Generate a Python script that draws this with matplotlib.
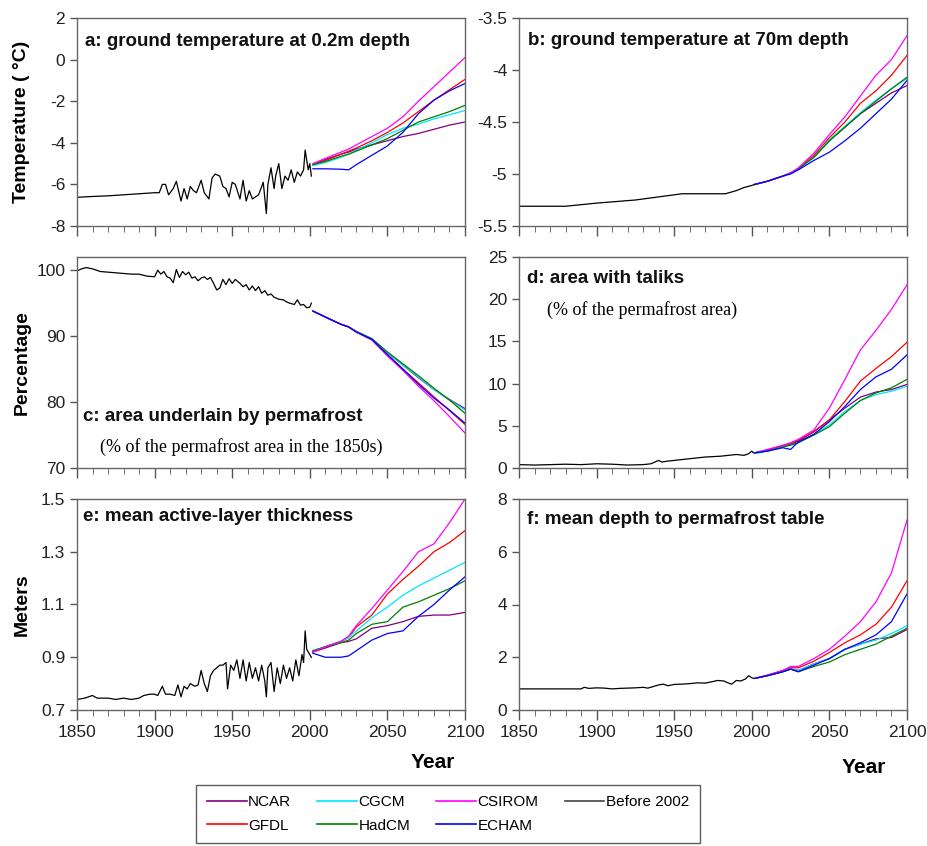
import matplotlib
matplotlib.use("Agg")
import matplotlib.pyplot as plt
from matplotlib.ticker import MultipleLocator, FormatStrFormatter

plt.rcParams['font.family'] = ['Liberation Sans', 'DejaVu Sans']
plt.rcParams['axes.unicode_minus'] = False

models = ['NCAR', 'GFDL', 'CGCM', 'HadCM', 'CSIROM', 'ECHAM']
colors = {'NCAR': '#800080', 'GFDL': '#ff0000', 'CGCM': '#00e5ff',
          'HadCM': '#008000', 'CSIROM': '#ff00ff', 'ECHAM': '#0000ff'}

proj_years = [2002, 2010, 2020, 2025, 2030, 2040, 2050, 2060, 2070, 2080, 2090, 2100]

# a: ground temperature at 0.2 m
hist_a_years = [1850, 1860, 1870, 1880, 1890, 1900, 1903, 1905, 1907, 1909, 1912, 1914, 1917, 1919,
                1921, 1923, 1925, 1927, 1930, 1932, 1935, 1937, 1939, 1942, 1944, 1946, 1948, 1950,
                1952, 1955, 1957, 1959, 1961, 1963, 1965, 1967, 1970, 1972, 1973, 1975, 1977, 1978,
                1980, 1982, 1984, 1986, 1988, 1990, 1992, 1994, 1996, 1997, 1999, 2000, 2001]
hist_a = [-6.62, -6.58, -6.55, -6.5, -6.45, -6.4, -6.4, -6.0, -6.0, -6.5, -6.2, -5.85, -6.8, -6.2,
          -6.7, -6.1, -6.3, -6.4, -5.8, -6.4, -6.7, -5.7, -5.5, -5.6, -6.1, -6.2, -6.6, -5.9,
          -6.0, -6.7, -5.8, -6.8, -6.3, -6.7, -6.6, -6.5, -5.9, -7.4, -6.0, -5.2, -6.2, -5.6,
          -5.0, -6.2, -5.6, -5.8, -5.3, -5.9, -5.4, -5.6, -5.3, -4.35, -5.3, -5.0, -5.6]
proj_a = {
    'NCAR':   [-5.05, -4.8, -4.55, -4.45, -4.3, -4.1, -3.9, -3.7, -3.55, -3.35, -3.15, -3.0],
    'GFDL':   [-5.05, -4.85, -4.55, -4.4, -4.25, -3.9, -3.5, -3.05, -2.5, -1.95, -1.45, -0.95],
    'CGCM':   [-5.1, -4.95, -4.7, -4.55, -4.35, -4.0, -3.6, -3.3, -3.1, -2.85, -2.65, -2.45],
    'HadCM':  [-5.05, -4.9, -4.65, -4.55, -4.4, -4.1, -3.8, -3.4, -3.0, -2.75, -2.5, -2.2],
    'CSIROM': [-5.0, -4.75, -4.45, -4.3, -4.1, -3.7, -3.3, -2.75, -2.0, -1.3, -0.6, 0.1],
    'ECHAM':  [-5.25, -5.25, -5.27, -5.3, -5.05, -4.6, -4.15, -3.5, -2.6, -1.95, -1.5, -1.15],
}

# b: ground temperature at 70 m
hist_b_years = [1850, 1880, 1900, 1925, 1940, 1955, 1983, 1990, 1995, 2000, 2002]
hist_b = [-5.31, -5.31, -5.28, -5.25, -5.22, -5.19, -5.19, -5.16, -5.13, -5.11, -5.1]
proj_b = {
    'NCAR':   [-5.1, -5.07, -5.02, -4.99, -4.95, -4.84, -4.68, -4.55, -4.42, -4.32, -4.22, -4.15],
    'GFDL':   [-5.1, -5.07, -5.02, -4.99, -4.95, -4.82, -4.65, -4.5, -4.32, -4.2, -4.05, -3.86],
    'CGCM':   [-5.1, -5.07, -5.02, -4.99, -4.95, -4.84, -4.67, -4.54, -4.41, -4.29, -4.18, -4.08],
    'HadCM':  [-5.1, -5.07, -5.02, -4.99, -4.95, -4.84, -4.68, -4.55, -4.42, -4.3, -4.18, -4.07],
    'CSIROM': [-5.1, -5.07, -5.02, -4.99, -4.94, -4.8, -4.62, -4.45, -4.25, -4.05, -3.9, -3.67],
    'ECHAM':  [-5.1, -5.07, -5.02, -5.0, -4.96, -4.87, -4.79, -4.68, -4.56, -4.42, -4.28, -4.1],
}

# c: area underlain by permafrost
hist_c_years = [1850, 1853, 1856, 1860, 1865, 1870, 1875, 1880, 1885, 1890, 1895, 1900, 1902, 1904,
                1906, 1908, 1910, 1912, 1914, 1916, 1918, 1920, 1922, 1924, 1926, 1928, 1930, 1932,
                1934, 1936, 1938, 1940, 1942, 1944, 1946, 1948, 1950, 1952, 1955, 1957, 1959, 1961,
                1963, 1965, 1967, 1969, 1971, 1973, 1975, 1977, 1980, 1983, 1985, 1987, 1990, 1992,
                1994, 1996, 1998, 2000, 2001]
hist_c = [99.9, 100.2, 100.4, 100.2, 99.8, 99.7, 99.6, 99.5, 99.4, 99.4, 99.1, 99.0, 100.0, 99.4,
          99.8, 99.0, 98.8, 98.1, 100.1, 98.9, 99.8, 99.3, 99.7, 98.8, 99.0, 98.4, 98.8, 99.0,
          98.6, 98.9, 98.0, 97.0, 97.3, 98.6, 97.8, 98.7, 98.0, 98.6, 98.0, 97.5, 97.8, 97.0,
          97.6, 96.9, 97.5, 96.5, 96.9, 96.2, 96.4, 95.9, 95.6, 95.5, 95.2, 95.0, 94.8, 95.5,
          94.7, 94.8, 94.3, 94.4, 95.0]
proj_c = {
    'NCAR':   [93.8, 92.9, 91.8, 91.4, 90.7, 89.6, 87.5, 85.6, 83.7, 81.9, 80.4, 79.0],
    'GFDL':   [93.8, 92.9, 91.8, 91.4, 90.7, 89.5, 87.2, 85.0, 82.9, 80.8, 78.7, 76.6],
    'CGCM':   [93.8, 92.9, 91.8, 91.4, 90.7, 89.6, 87.5, 85.6, 83.8, 81.9, 80.3, 78.8],
    'HadCM':  [93.8, 92.9, 91.8, 91.4, 90.7, 89.6, 87.6, 85.8, 84.0, 82.1, 80.3, 78.3],
    'CSIROM': [93.8, 92.9, 91.8, 91.4, 90.6, 89.4, 87.0, 84.8, 82.4, 80.2, 77.8, 75.3],
    'ECHAM':  [93.8, 92.9, 91.8, 91.4, 90.6, 89.5, 87.2, 85.0, 82.7, 80.6, 78.8, 76.8],
}

# d: area with taliks
hist_d_years = [1850, 1860, 1870, 1880, 1890, 1900, 1910, 1920, 1930, 1935, 1940, 1942, 1945, 1950,
                1955, 1960, 1965, 1970, 1975, 1980, 1985, 1990, 1995, 1998, 2000, 2001]
hist_d = [0.4, 0.35, 0.4, 0.45, 0.4, 0.5, 0.45, 0.35, 0.4, 0.5, 0.9, 0.7, 0.8, 0.9,
          1.0, 1.1, 1.2, 1.3, 1.35, 1.4, 1.5, 1.6, 1.5, 1.7, 2.0, 1.8]
proj_d = {
    'NCAR':   [1.8, 2.1, 2.6, 2.8, 3.2, 4.3, 5.7, 7.1, 8.4, 9.0, 9.3, 9.9],
    'GFDL':   [1.8, 2.1, 2.6, 2.9, 3.3, 4.3, 5.7, 7.9, 10.3, 11.8, 13.2, 14.9],
    'CGCM':   [1.7, 2.0, 2.5, 2.7, 3.0, 4.0, 5.1, 6.7, 8.0, 8.7, 9.1, 9.7],
    'HadCM':  [1.8, 2.0, 2.5, 2.7, 3.0, 3.9, 4.9, 6.5, 8.0, 8.9, 9.5, 10.5],
    'CSIROM': [1.8, 2.2, 2.7, 3.0, 3.4, 4.5, 7.1, 10.5, 14.0, 16.3, 18.8, 21.7],
    'ECHAM':  [1.8, 2.0, 2.4, 2.2, 3.1, 4.0, 5.5, 7.3, 9.3, 10.8, 11.7, 13.4],
}

# e: mean active-layer thickness
hist_e_years = [1850, 1855, 1860, 1863, 1870, 1875, 1880, 1885, 1890, 1893, 1897, 1900, 1902, 1905,
                1907, 1910, 1913, 1915, 1917, 1919, 1921, 1923, 1926, 1928, 1930, 1932, 1934, 1936,
                1938, 1940, 1942, 1944, 1946, 1947, 1949, 1951, 1953, 1955, 1957, 1959, 1961, 1963,
                1965, 1967, 1969, 1971, 1972, 1973, 1975, 1977, 1979, 1981, 1983, 1985, 1987, 1989,
                1991, 1993, 1995, 1996, 1997, 1998, 1999, 2000, 2001]
hist_e = [0.74, 0.745, 0.755, 0.745, 0.745, 0.74, 0.745, 0.74, 0.745, 0.755, 0.76, 0.76, 0.755, 0.79,
          0.76, 0.76, 0.755, 0.795, 0.75, 0.79, 0.78, 0.8, 0.79, 0.795, 0.85, 0.8, 0.77, 0.83,
          0.85, 0.86, 0.87, 0.87, 0.88, 0.78, 0.87, 0.85, 0.89, 0.82, 0.89, 0.81, 0.88, 0.82,
          0.86, 0.81, 0.87, 0.81, 0.75, 0.86, 0.88, 0.77, 0.86, 0.8, 0.87, 0.82, 0.86, 0.81,
          0.89, 0.83, 0.91, 0.88, 1.0, 0.93, 0.92, 0.91, 0.9]
proj_e = {
    'NCAR':   [0.92, 0.935, 0.955, 0.96, 0.97, 1.01, 1.02, 1.035, 1.055, 1.06, 1.06, 1.07],
    'GFDL':   [0.92, 0.94, 0.96, 0.975, 1.015, 1.06, 1.14, 1.195, 1.245, 1.3, 1.335, 1.38],
    'CGCM':   [0.925, 0.94, 0.96, 0.975, 1.0, 1.05, 1.09, 1.135, 1.17, 1.2, 1.23, 1.26],
    'HadCM':  [0.925, 0.94, 0.955, 0.965, 0.99, 1.025, 1.035, 1.09, 1.11, 1.135, 1.16, 1.19],
    'CSIROM': [0.92, 0.94, 0.96, 0.98, 1.02, 1.085, 1.155, 1.225, 1.3, 1.33, 1.41, 1.5],
    'ECHAM':  [0.915, 0.9, 0.9, 0.905, 0.925, 0.965, 0.99, 1.0, 1.055, 1.1, 1.155, 1.205],
}

# f: mean depth to permafrost table
hist_f_years = [1850, 1870, 1890, 1892, 1895, 1900, 1905, 1910, 1915, 1920, 1925, 1930, 1933, 1936,
                1940, 1943, 1946, 1950, 1955, 1960, 1965, 1970, 1975, 1978, 1982, 1985, 1987, 1990,
                1993, 1996, 1998, 2000, 2001]
hist_f = [0.8, 0.8, 0.8, 0.86, 0.82, 0.84, 0.83, 0.8, 0.82, 0.83, 0.84, 0.86, 0.83, 0.88,
          0.95, 0.98, 0.92, 0.97, 0.98, 1.0, 1.03, 1.02, 1.08, 1.12, 1.1, 1.02, 0.98, 1.12,
          1.1, 1.18, 1.3, 1.22, 1.2]
proj_f = {
    'NCAR':   [1.2, 1.3, 1.45, 1.55, 1.5, 1.75, 1.95, 2.3, 2.5, 2.7, 2.75, 3.05],
    'GFDL':   [1.2, 1.32, 1.5, 1.6, 1.6, 1.85, 2.18, 2.55, 2.85, 3.25, 3.9, 4.9],
    'CGCM':   [1.2, 1.3, 1.45, 1.55, 1.5, 1.75, 1.95, 2.3, 2.5, 2.65, 2.9, 3.2],
    'HadCM':  [1.2, 1.3, 1.45, 1.55, 1.45, 1.65, 1.82, 2.1, 2.3, 2.5, 2.8, 3.1],
    'CSIROM': [1.2, 1.32, 1.5, 1.65, 1.65, 1.95, 2.3, 2.8, 3.35, 4.1, 5.2, 7.2],
    'ECHAM':  [1.2, 1.3, 1.45, 1.55, 1.45, 1.7, 1.95, 2.3, 2.55, 2.85, 3.35, 4.4],
}

yticks_a = [-8, -6, -4, -2, 0, 2]
yticks_b = [-5.5, -5, -4.5, -4, -3.5]
yticks_c = [70, 80, 90, 100]
yticks_d = [0, 5, 10, 15, 20, 25]
yticks_e = [0.7, 0.9, 1.1, 1.3, 1.5]
yticks_f = [0, 2, 4, 6, 8]

fig = plt.figure(figsize=(9.28, 8.46), dpi=100)

W = 388 / 928
lefts = [77 / 928, 519 / 928]
rows = [(18, 226), (257, 468), (499, 710)]

panels = [
    ('a: ground temperature at 0.2m depth', hist_a_years, hist_a, proj_a, (-8, 2), yticks_a, '%g'),
    ('b: ground temperature at 70m depth', hist_b_years, hist_b, proj_b, (-5.5, -3.5), yticks_b, '%g'),
    ('c: area underlain by permafrost', hist_c_years, hist_c, proj_c, (70, 102), yticks_c, '%g'),
    ('d: area with taliks', hist_d_years, hist_d, proj_d, (0, 25), yticks_d, '%g'),
    ('e: mean active-layer thickness', hist_e_years, hist_e, proj_e, (0.7, 1.5), yticks_e, '%.1f'),
    ('f: mean depth to permafrost table', hist_f_years, hist_f, proj_f, (0, 8), yticks_f, '%g'),
]
label_pos = [(0.021, 0.889), (0.023, 0.89), (0.015, 0.242), (0.021, 0.90), (0.015, 0.915), (0.021, 0.905)]

axes = []
for i, (title, hy, hv, proj, ylim, yt, fmt) in enumerate(panels):
    r, c = divmod(i, 2)
    top, bot = rows[r]
    ax = fig.add_axes([lefts[c], 1 - bot / 846, W, (bot - top) / 846])
    axes.append(ax)
    for m in models:
        ax.plot(proj_years, proj[m], color=colors[m], lw=0.9)
    ax.plot(hy, hv, color='black', lw=0.9)
    ax.set_xlim(1850, 2100)
    ax.set_ylim(*ylim)
    ax.xaxis.set_major_locator(MultipleLocator(50))
    ax.xaxis.set_minor_locator(MultipleLocator(10))
    ax.set_yticks(yt)
    ax.yaxis.set_major_formatter(FormatStrFormatter(fmt))
    ax.tick_params(axis='both', which='major', direction='out', labelsize=12.5,
                   colors='#555555', labelcolor='#222222', width=1)
    ax.tick_params(axis='x', which='major', length=7)
    ax.tick_params(axis='y', which='major', length=5)
    ax.tick_params(axis='x', which='minor', direction='out', length=4, colors='#555555')
    for s in ax.spines.values():
        s.set_color('#666666')
        s.set_linewidth(1)
    if r < 2:
        ax.tick_params(axis='x', labelbottom=False)
    lx, ly = label_pos[i]
    ax.text(lx, ly, title, transform=ax.transAxes, ha='left', va='center',
            fontsize=13.5, fontweight='bold', color='#111111')

axes[2].text(0.059, 0.10, '(% of the permafrost area in the 1850s)', transform=axes[2].transAxes,
             ha='left', va='center', fontsize=13, family='Liberation Serif')
axes[3].text(0.072, 0.749, '(% of the permafrost area)', transform=axes[3].transAxes,
             ha='left', va='center', fontsize=13, family='Liberation Serif')

axes[0].set_ylabel('Temperature ( °C)', fontsize=14, fontweight='bold')
axes[2].set_ylabel('Percentage', fontsize=14, fontweight='bold')
axes[4].set_ylabel('Meters', fontsize=14, fontweight='bold')
for ax in (axes[0], axes[2], axes[4]):
    ax.yaxis.set_label_coords(-0.12, 0.5)

fig.text(433 / 928, 1 - 762 / 846, 'Year', ha='center', va='center', fontsize=15, fontweight='bold')
fig.text(864 / 928, 1 - 767 / 846, 'Year', ha='center', va='center', fontsize=15, fontweight='bold')

order = ['NCAR', 'GFDL', 'CGCM', 'HadCM', 'CSIROM', 'ECHAM']
handles = [plt.Line2D([], [], color=colors[m], lw=1.2) for m in order]
handles.append(plt.Line2D([], [], color='#444444', lw=1.2))
labels = order + ['Before 2002']
leg = fig.legend(handles, labels, ncol=4, loc='center', bbox_to_anchor=(448 / 928, 1 - 814 / 846),
                 fontsize=11, frameon=True, fancybox=False, edgecolor='#333333',
                 handlelength=2.6, handletextpad=0.1, columnspacing=1.7, borderpad=0.7,
                 labelspacing=0.6)
leg.get_frame().set_linewidth(1)

fig.savefig('out.png', dpi=100)
